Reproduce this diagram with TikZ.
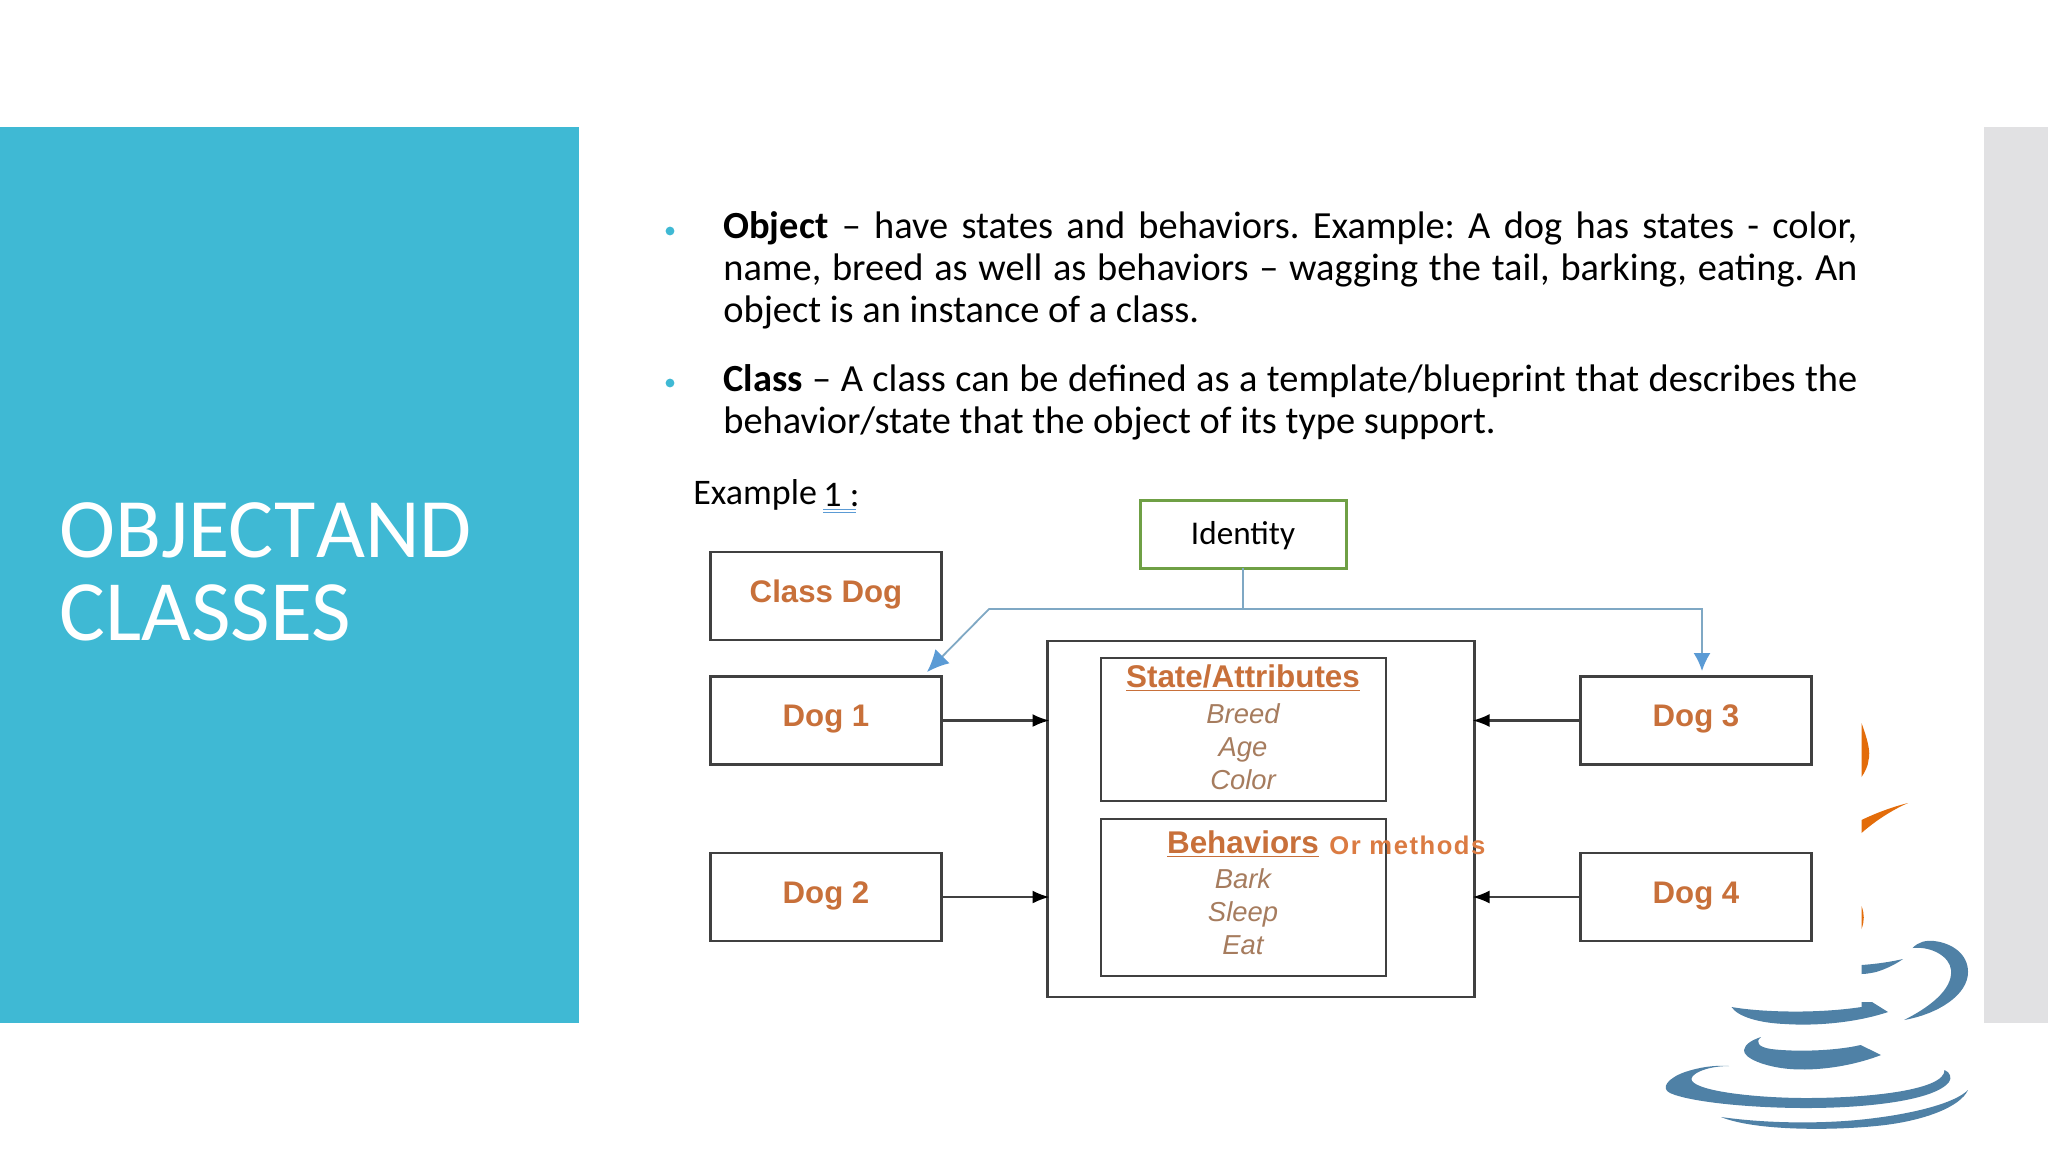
\documentclass[tikz,border=0pt]{standalone}
\usepackage{fontspec}
\setmainfont{Carlito}
\newfontfamily\lib{Liberation Sans}
\newfontfamily\libsp[LetterSpace=6]{Liberation Sans}
\usetikzlibrary{arrows.meta,calc}
\definecolor{teal1}{HTML}{3FB9D4}
\definecolor{grey1}{HTML}{E1E1E3}
\definecolor{frame1}{HTML}{404040}
\definecolor{green1}{HTML}{6FA045}
\definecolor{orange1}{HTML}{C8703A}
\definecolor{orange2}{HTML}{DB7B42}
\definecolor{orange3}{HTML}{E36C0A}
\definecolor{item1}{HTML}{A67C5E}
\definecolor{blue1}{HTML}{5B9BD5}
\definecolor{blue2}{HTML}{7FA8C4}
\definecolor{java}{HTML}{4F81A6}
\tikzset{
  box/.style={draw=frame1,line width=1.2pt,rectangle,inner sep=0pt,outer sep=0pt,fill=white},
  dogbox/.style={box,minimum width=115.5pt,minimum height=44pt,font=\lib\bfseries\fontsize{15.6}{18}\selectfont,text=orange1,text height=11.2pt,text depth=4.8pt},
  head/.style={font=\lib\bfseries\fontsize{15.7}{18}\selectfont,text=orange1,inner sep=0pt},
  item/.style={font=\lib\itshape\fontsize{13.7}{16}\selectfont,text=item1,inner sep=0pt,text height=10pt,text depth=0pt},
  para/.style={font=\fontsize{19.2}{21}\selectfont,text width=567pt,align=justify,inner sep=0pt,anchor=north west},
  bullet/.style={circle,fill=teal1,minimum size=4.4pt,inner sep=0pt},
  flow/.style={line width=1.1pt,draw=frame1,shorten >=-1pt,-{Latex[length=8.5pt,width=6.5pt,black]}},
  idline/.style={line width=0.9pt,draw=blue2},
  logo/.style={fill=java,draw=none},
  logoo/.style={fill=orange3,draw=none},
}
\begin{document}
\begin{tikzpicture}[x=0.5pt,y=-0.5pt]
\useasboundingbox (0,0) rectangle (2048,1152);
\fill[white] (0,0) rectangle (2048,1152);
\fill[teal1] (0,127) rectangle (579,1023);
\fill[grey1] (1984,127) rectangle (2048,1023);
\node[anchor=west,text=white,inner sep=0pt,font=\fontsize{42.3}{46}\selectfont] (t1) at (59,530) {\spaceskip=0.5pt OBJECT AND};
\node[anchor=west,text=white,inner sep=0pt,font=\fontsize{43}{46}\selectfont] (t2) at (59,613) {CLASSES};
\node[bullet] (b1) at (670,231) {};
\node[bullet] (b2) at (670,383) {};
\node[para] (p1) at (723,211) {\frenchspacing\textbf{Object} – have states and behaviors. Example: A dog has states - color,\linebreak name, breed as well as behaviors – wagging the tail, barking, eating. An\linebreak object is an instance of a class.};
\node[para] (p2) at (723,364) {\frenchspacing\textbf{Class} – A class can be defined as a template/blueprint that describes the\linebreak behavior/state that the object of its type support.};
\node[anchor=west,inner sep=0pt,font=\fontsize{18}{20}\selectfont] (ex) at (693,495) {Example};
\node[anchor=west,inner sep=0pt,font=\fontsize{18}{20}\selectfont] (ex1) at (823,495) {1 :};
\draw[blue1,line width=0.6pt] (ex1.south west) ++(0,2) -- ++(33,0) ++(-33,3.5) -- ++(33,0);
% diagram boxes
\node[box,minimum width=213.5pt,minimum height=178pt] (outer) at (1261,819) {};
\node[box,minimum width=142.5pt,minimum height=71.5pt] (state) at (1243.5,729.5) {};
\node[box,minimum width=142.5pt,minimum height=78.5pt] (beh) at (1243.5,897.5) {};
\node[dogbox] (cd) at (826,596) {Class Dog};
\node[dogbox] (d1) at (826,720.5) {Dog 1};
\node[dogbox] (d2) at (826,897) {Dog 2};
\node[dogbox] (d3) at (1696,720.5) {Dog 3};
\node[dogbox] (d4) at (1696,897) {Dog 4};
\node[draw=green1,line width=1.5pt,rectangle,inner sep=0pt,outer sep=0pt,minimum width=103pt,minimum height=34pt,font=\fontsize{16.6}{18}\selectfont] (id) at (1243,534) {\raisebox{-5.2pt}[0pt][0pt]{Identity}};
\node[head] (sa) at (1243,678) {\underline{State/Attributes}};
\node[item] (i1) at (1243,713) {Breed};
\node[item] (i2) at (1243,746) {Age};
\node[item] (i3) at (1243,779) {Color};
\node[head] (bh) at (1243,844) {\underline{Behaviors}};
\node[anchor=west,inner sep=0pt,text=orange2,font=\libsp\bfseries\fontsize{12.8}{15}\selectfont] (om) at (1329,845) {Or methods};
\node[item] (i4) at (1243,878) {Bark};
\node[item] (i5) at (1243,911) {Sleep};
\node[item] (i6) at (1243,944) {Eat};
% connectors
\draw[flow] (d1.east) -- (outer.west|-d1.east);
\draw[flow] (d2.east) -- (outer.west|-d2.east);
\draw[flow] (d3.west) -- (outer.east|-d3.west);
\draw[flow] (d4.west) -- (outer.east|-d4.west);
\coordinate (jn) at (1243,609);
\coordinate (jl) at (989,609);
\coordinate (jr) at (1702,609);
\coordinate (el) at (927,672);
\coordinate (er) at (1702,671);
\draw[idline] (id.south) -- (jn);
\draw[idline,-{Latex[length=11pt,width=10pt,blue1]}] (jn) -- (jl) -- (el);
\draw[idline,-{Latex[length=9pt,width=8.5pt,blue1]}] (jn) -- (jr) -- (er);
% java logo
\fill[logoo] (1861.5,723) .. controls (1867,738) and (1871,752) .. (1868.5,760) .. controls (1868,766) and (1865,772) .. (1861.5,777) -- cycle;
\fill[logoo] (1861.5,820) .. controls (1876,813) and (1892,807) .. (1908,803) .. controls (1892,810) and (1875,821) .. (1861.5,833) -- cycle;
\fill[logoo] (1861.5,906) .. controls (1864.5,914) and (1864.5,921) .. (1861.5,929) -- cycle;
\fill[logo] (1912.6,948) .. controls (1918,942) and (1926,940) .. (1934,941) .. controls (1952,943) and (1968,954) .. (1968,972) .. controls (1968,995) and (1938,1014) .. (1904,1020) .. controls (1928,1008) and (1953,990) .. (1951,970) .. controls (1950,957) and (1932,946) .. (1912.6,948) -- cycle;
\fill[logo] (1861.5,965) .. controls (1876,964) and (1890,962) .. (1903,959) .. controls (1896,964) and (1886,969) .. (1876,972) .. controls (1871,973) and (1866,974) .. (1861.5,974) -- cycle;
\fill[logo] (1731.5,1007) .. controls (1760,1012) and (1815,1014) .. (1861.5,1007) -- (1861.5,1002) -- (1872,1002) -- (1888,1012) .. controls (1855,1023) and (1815,1026) .. (1785,1024) .. controls (1760,1023) and (1738,1017) .. (1731.5,1007) -- cycle;
\fill[logo] (1761,1037) .. controls (1755,1042) and (1758,1047) .. (1771,1049) .. controls (1795,1052) and (1835,1051) .. (1860.6,1045) -- (1881,1055) .. controls (1850,1067) and (1815,1071) .. (1790,1069) .. controls (1765,1067) and (1743,1058) .. (1744,1050) .. controls (1745,1044) and (1752,1040) .. (1761,1037) -- cycle;
\fill[logo] (1729,1066) .. controls (1705,1066) and (1688,1075) .. (1692,1081) .. controls (1700,1092) and (1760,1098) .. (1806,1098) .. controls (1870,1098) and (1945,1090) .. (1944.5,1070) .. controls (1950,1072) and (1952,1078) .. (1949,1082) .. controls (1935,1100) and (1870,1108) .. (1806,1108) .. controls (1750,1108) and (1690,1102) .. (1670,1093) .. controls (1660,1088) and (1668,1078) .. (1685,1072) .. controls (1700,1067) and (1715,1065) .. (1729,1066) -- cycle;
\fill[logo] (1721,1117) .. controls (1770,1124) and (1830,1124) .. (1875,1118) .. controls (1915,1113) and (1955,1103) .. (1968,1090) .. controls (1960,1107) and (1925,1120) .. (1885,1125) .. controls (1835,1131) and (1755,1131) .. (1721,1117) -- cycle;
\end{tikzpicture}
\end{document}
